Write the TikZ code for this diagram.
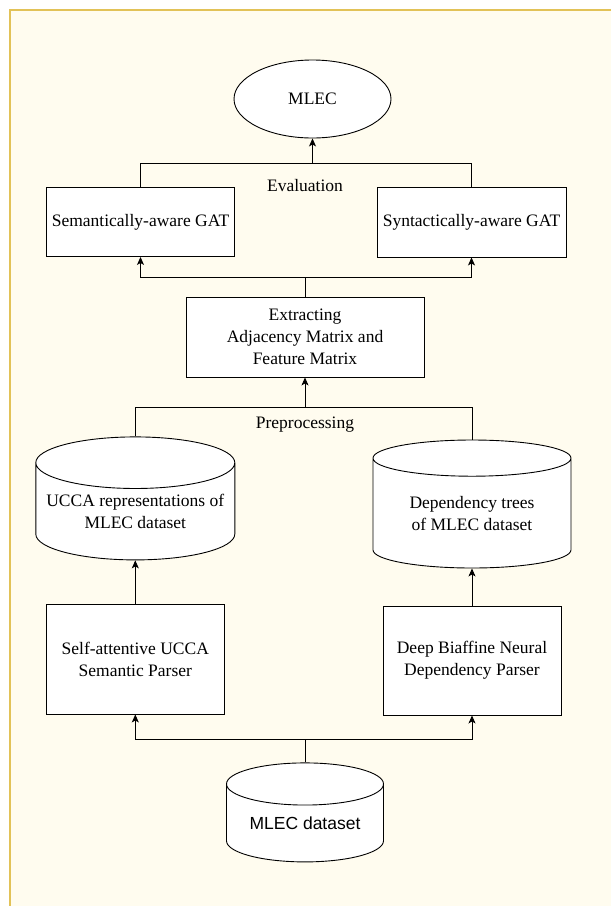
\documentclass[tikz,border=0pt]{standalone}
\usepackage{fontspec}
\setmainfont{Liberation Serif}
\newfontfamily\datafont{Liberation Sans}
\usetikzlibrary{shapes.geometric,arrows.meta}

\definecolor{pagebg}{HTML}{FFFCEF}
\definecolor{pageedge}{HTML}{E2C257}

\begin{document}
\begin{tikzpicture}[x=1pt, y=-1pt, line width=0.9pt, >={Stealth[length=8pt,width=7pt,inset=2pt]},
  font=\fontsize{17.5}{22}\selectfont,
  box/.style={draw, fill=white, inner sep=0pt, align=center},
  db/.style={draw, fill=white, cylinder, shape border rotate=90, aspect=0.29,
    inner sep=0pt, align=center, anchor=shape center}]

\useasboundingbox (0,0) rectangle (611,906);
\fill[pagebg] (10,10) rectangle (611,906);
\draw[pageedge, line width=1.5pt] (10,906) -- (10,10) -- (611,10);

\node[name=mlec, draw, fill=white, ellipse, inner sep=0pt, minimum width=157pt, minimum height=78pt] at (312.5,99) {MLEC};

\node[name=semgat, box, minimum width=188pt, minimum height=69pt] at (140.5,222) {Semantically-aware GAT};
\node[name=syngat, box, minimum width=189pt, minimum height=70pt] at (471.5,222) {Syntactically-aware GAT};
\node[name=evallbl, anchor=base] at (305,191) {Evaluation};
\coordinate (evaljoin) at (312.5,163);

\draw (semgat.north) |- (evaljoin);
\draw (syngat.north) |- (evaljoin);
\draw[->] (evaljoin) -- (mlec.south);

\node[name=extract, box, minimum width=238pt, minimum height=80pt] at (305,337) {Extracting\\Adjacency Matrix and\\Feature Matrix};
\coordinate (gatsplit) at (305,277);

\draw (extract.north) -- (gatsplit);
\draw[->] (gatsplit) -| (semgat.south);
\draw[->] (gatsplit) -| (syngat.south);

\node[name=uccadb, db, minimum width=199pt, minimum height=123pt] at (135.3,498.4) {UCCA representations of\\MLEC dataset};
\node[name=depdb, db, minimum width=198pt, minimum height=128pt] at (472,504) {Dependency trees\\of MLEC dataset};
\node[name=prelbl, anchor=base] at (305,428) {Preprocessing};
\coordinate (prejoin) at (305,407);

\draw (uccadb.north) |- (prejoin);
\draw (depdb.north) |- (prejoin);
\draw[->] (prejoin) -- (extract.south);

\node[name=uccaparser, box, minimum width=178pt, minimum height=110pt] at (135.3,659) {Self-attentive UCCA\\Semantic Parser};
\node[name=depparser, box, minimum width=178pt, minimum height=109pt] at (472,660.5) {Deep Biaffine Neural\\Dependency Parser};

\draw[->] (uccaparser.north) -- (uccadb.south);
\draw[->] (depparser.north) -- (depdb.south);

\node[name=mlecdb, db, aspect=0.38, font=\datafont\fontsize{17.5}{22}\selectfont, minimum width=157pt, minimum height=99pt] at (305,812.4) {MLEC dataset};
\coordinate (parsersplit) at (305,739);

\draw (mlecdb.north) -- (parsersplit);
\draw[->] (parsersplit) -| (uccaparser.south);
\draw[->] (parsersplit) -| (depparser.south);
\end{tikzpicture}
\end{document}
